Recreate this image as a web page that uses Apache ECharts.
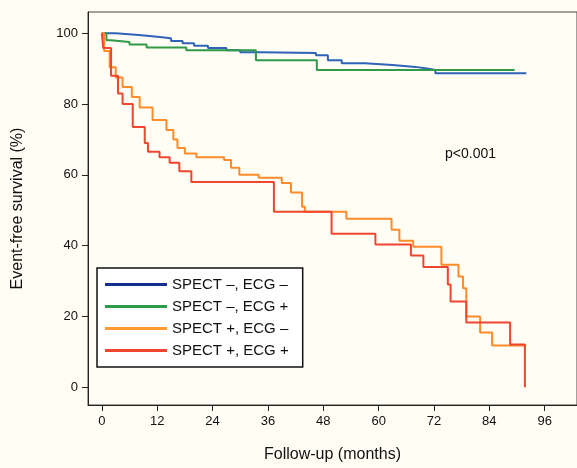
<!DOCTYPE html>
<html>
<head>
<meta charset="utf-8">
<script src="https://cdn.jsdelivr.net/npm/echarts@6/dist/echarts.min.js"></script>
<style>
  html, body { margin: 0; padding: 0; background: #fffdf4; }
  #chart { width: 577px; height: 468px; }
</style>
</head>
<body>
<div id="chart"></div>
<script>
const seriesNames = ["SPECT \u2013, ECG \u2013", "SPECT \u2013, ECG +", "SPECT +, ECG \u2013", "SPECT +, ECG +"];
const seriesColors = ["#2f63b8", "#2f9a48", "#ff8c2a", "#f0452e"];
const legendColors = ["#15308c", "#2f9a48", "#ff9a30", "#f0452e"];
const xTicks = [0, 12, 24, 36, 48, 60, 72, 84, 96];
const yTicks = [0, 20, 40, 60, 80, 100];

// Kaplan-Meier steps: [month, survival %]
const spectNegEcgNeg = [[0, 100], [3, 99.5], [8, 99], [12, 98.6], [15, 97.8], [17.5, 97.2], [20, 96.5], [23, 95.8], [27, 95.2], [30, 94.6], [34.7, 94.4], [46.4, 93.8], [49, 92.4], [52, 91.5], [57, 91], [63, 90.5], [68, 90], [70.8, 89.6], [72.3, 88.7], [92, 88.7]];
const spectNegEcgPos = [[0, 100], [1, 98], [2, 97.5], [6, 96.8], [9.7, 96], [18.3, 95.2], [33.4, 92.4], [46.6, 89.6], [89.5, 89.6]];
const spectPosEcgNeg = [[0, 100], [0.5, 95], [1.7, 90.4], [3, 87.5], [4.5, 84.8], [6.5, 82], [8.2, 79], [11, 75.5], [14, 72.7], [15.5, 70], [16.4, 67.6], [18, 66], [20.5, 65], [26.5, 64.2], [28, 62], [29.8, 60], [34, 59.2], [39, 57.7], [41, 55], [43.4, 51], [44, 49.6], [53, 47.6], [62.8, 44.5], [64.5, 41.4], [67.5, 39.7], [73.6, 34.6], [77.3, 31.3], [78.3, 28], [79, 20], [82, 15.5], [84.6, 11.8], [92, 11.8]];
const spectPosEcgPos = [[0, 100], [0.3, 95.8], [2, 88], [3.5, 83], [4.5, 80], [6.7, 73.5], [9.3, 69], [10, 66.5], [12.5, 65], [14.7, 63.4], [16.8, 61], [19.4, 58], [36.2, 58], [37.3, 49.6], [49.8, 43.4], [59.3, 40.3], [67, 37.2], [69.7, 34], [75, 29], [75.6, 24.2], [79, 18.3], [88.5, 12.1], [91.7, 0], [91.71, 0]];
const survivalData = [spectNegEcgNeg, spectNegEcgPos, spectPosEcgNeg, spectPosEcgPos];

const chart = echarts.init(document.getElementById("chart"));
const font = "Liberation Sans, Arial, sans-serif";

chart.setOption({
  animation: false,
  grid: { left: 88, right: -2, top: 12, bottom: 63, show: true, backgroundColor: "#fffdf4", borderColor: "#444", borderWidth: 1 },
  xAxis: {
    type: "value", min: -3, max: 103,
    name: "Follow-up (months)", nameLocation: "middle", nameGap: 42,
    nameTextStyle: { fontFamily: font, fontSize: 16, color: "#111" },
    axisLine: { show: true, onZero: false, lineStyle: { color: "#222" } },
    axisTick: { show: true, customValues: xTicks, length: 6, lineStyle: { color: "#222" } },
    axisLabel: { customValues: xTicks, fontFamily: font, fontSize: 13, color: "#111", margin: 10 },
    splitLine: { show: false }
  },
  yAxis: {
    type: "value", min: -5, max: 106,
    name: "Event-free survival (%)", nameLocation: "middle", nameGap: 62,
    nameTextStyle: { fontFamily: font, fontSize: 16, color: "#111" },
    axisLine: { show: true, onZero: false, lineStyle: { color: "#222" } },
    axisTick: { show: true, customValues: yTicks, length: 6, lineStyle: { color: "#222" } },
    axisLabel: { customValues: yTicks, fontFamily: font, fontSize: 13, color: "#111", margin: 10 },
    splitLine: { show: false }
  },
  legend: {
    orient: "vertical", left: 97, top: 268, width: 210,
    padding: [9, 14, 9, 8], itemGap: 7,
    backgroundColor: "#fff", borderColor: "#111", borderWidth: 1.5,
    itemWidth: 62, itemHeight: 14, icon: "path://M0,0H62V3H0Z",
    textStyle: { fontFamily: font, fontSize: 15, color: "#111" },
    data: seriesNames.map((name, i) => ({ name, itemStyle: { color: legendColors[i] } }))
  },
  graphic: [{ type: "text", left: 445, top: 147, style: { text: "p<0.001", font: "14px " + font, fill: "#111" } }],
  series: survivalData.map((data, i) => ({
    name: seriesNames[i], type: "line", step: "end", data,
    symbol: "none", color: seriesColors[i],
    lineStyle: { width: 2, color: seriesColors[i] }
  }))
});
</script>
</body>
</html>
